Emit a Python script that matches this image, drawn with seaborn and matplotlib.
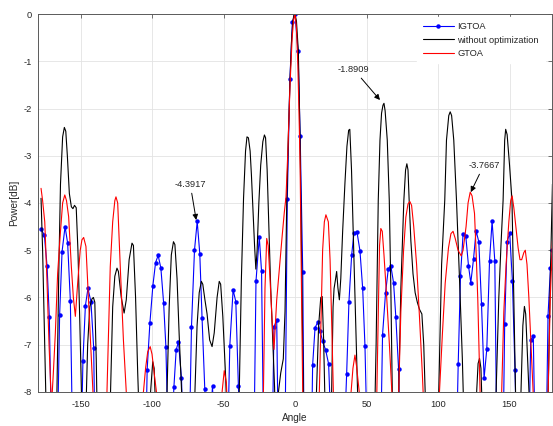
import numpy as np
import matplotlib
matplotlib.use('Agg')
from matplotlib import pyplot as plt
import seaborn as sns

# IGTOA (blue, with markers) - values below -8 fall off the axes
igtoa_angle = [-177.4, -175.3, -173.4, -171.8, -170, -168.2, -166.4, -164.6, -162.9, -160.8,
               -159, -157.1, -155.3, -153.5, -151.7, -150, -148.3, -146.6, -144.8, -142.7,
               -140.8, -139, -121, -105.2, -103.4, -101.5, -99.4, -97.5, -95.7, -93.8,
               -91.9, -90.3, -88.5, -86.6, -84.7, -83.1, -81.5, -79.4, -77.6, -75.9,
               -74.2, -72.4, -70.3, -68.4, -66.6, -65, -63.1, -61.3, -59.5, -57.7,
               -55.9, -52, -47.4, -45.6, -43.3, -41.4, -39.6, -37.8, -33, -29,
               -27.3, -25.0, -23.4, -21.6, -18.2, -16.4, -14.7, -12.8, -11.0, -9.2,
               -7.3, -5.4, -3.6, -1.8, 0, 2.1, 3.6, 5.4, 7.1, 8.9,
               10.6, 12.3, 14, 15.8, 17.5, 19.3, 21.4, 23.5, 25.4, 30,
               34.4, 36.1, 37.7, 39.6, 41.2, 43.3, 45.4, 47.3, 48.9, 50.8,
               55, 59.4, 61.2, 63.3, 65.2, 67, 68.9, 70.5, 72.4, 74.2,
               94, 112.3, 114.1, 115.7, 117.5, 119.4, 121.3, 122.9, 124.8, 126.6,
               128.5, 130.4, 132.2, 134.1, 136, 137.8, 139.7, 141.6, 143.2, 144.9,
               146.6, 148.3, 150.1, 152, 153.8, 155.6, 160, 163, 164.8, 166.6,
               168.4, 172, 175.2, 176.9, 178.6, 180]
igtoa_db = [-4.56, -4.68, -5.33, -6.42, -9.5, -13, -9.5, -6.37, -5.03, -4.5,
            -4.85, -6.07, -9.5, -14, -12, -9.8, -7.34, -6.18, -5.81, -6.09,
            -7.06, -11, -20, -10.5, -7.53, -6.55, -5.75, -5.26, -5.11, -5.38,
            -6.11, -7.04, -9.3, -9.2, -7.9, -7.11, -6.94, -7.71, -9.5, -12,
            -9.5, -6.62, -5.0, -4.39, -5.07, -6.44, -7.94, -9.0, -8.8, -7.87,
            -9.5, -14, -9.5, -7.02, -5.84, -6.09, -7.87, -9.5, -15, -9.8,
            -5.66, -4.72, -5.45, -10, -14, -10, -6.62, -6.48, -11, -14,
            -10, -3.92, -1.38, -0.16, 0.0, -0.78, -2.58, -5.47, -12, -16,
            -11, -7.44, -6.64, -6.53, -6.7, -6.93, -7.11, -7.41, -9, -15,
            -9, -7.62, -6.09, -5.1, -4.64, -4.61, -5.01, -5.81, -7.02, -9.5,
            -15, -10, -6.79, -5.9, -5.4, -5.33, -5.69, -6.42, -7.51, -10,
            -20, -10, -7.41, -5.55, -4.66, -4.7, -5.33, -5.69, -5.19, -4.59,
            -4.82, -6.14, -7.71, -7.09, -5.23, -4.38, -5.23, -10.5, -14, -10.5,
            -6.56, -4.82, -4.64, -5.65, -7.53, -10, -15, -10, -6.9, -6.82,
            -10, -15, -10, -6.39, -5.38, -5.0]

# without optimization (black)
plain_angle = [-177.6, -176.5, -175.3, -174.3, -173, -170, -168, -166.5, -165.2, -164,
               -162.5, -161.3, -160.3, -159.2, -157.8, -156.4, -155.3, -154.2, -153, -151.8,
               -150.5, -149.2, -147.7, -146.3, -145, -143.5, -142, -141, -140, -139,
               -137.5, -135, -131, -129, -127.5, -126, -124.5, -123.5, -121.5, -119.5,
               -118, -116, -114, -113, -111.5, -110, -109, -107.5, -105, -102.5,
               -101, -99.5, -98.5, -97, -95.5, -93, -90.8, -89.5, -88, -86.5,
               -85, -84, -82.5, -81, -79.3, -77.8, -74, -71.3, -70, -68.5,
               -67, -65.5, -64.5, -63, -61.5, -59.7, -58, -56.5, -54.5, -53,
               -52, -50.5, -48.5, -47, -45.5, -43, -40.5, -39, -37.5, -36,
               -34.6, -33.6, -32.6, -31.4, -30.5, -29.5, -28.3, -27.4, -26.5, -25.3,
               -24, -22.5, -21.4, -20.6, -19.5, -18.3, -17, -15.6, -14.3, -13,
               -11.6, -10, -8.2, -7.0, -5.8, -4.7, -3.5, -2.5, -1.6, -0.8,
               0, 1, 2.3, 3.5, 4.7, 5.8, 7, 9, 12, 13.8,
               15, 16.5, 18, 19, 20, 21, 22.5, 24.3, 25.6, 26.6,
               27.3, 28.3, 29.1, 30, 31, 32, 33.3, 34.9, 36.3, 37.5,
               38.3, 39.5, 40.7, 42.6, 44.2, 45.5, 50, 54.5, 55.7, 56.7,
               57.5, 58.2, 59.4, 60.5, 61.5, 62.2, 63, 64.5, 65.9, 67,
               68, 69, 71, 72.5, 74, 76.1, 77.3, 78.2, 79, 79.8,
               81, 82.5, 84, 85.5, 87, 88.7, 90, 91.5, 93, 96,
               99, 100.5, 102.5, 104.7, 105.9, 107.5, 108.5, 109.5, 111, 112.9,
               115, 117, 118.5, 120, 123, 125.5, 126.5, 128, 129, 130,
               131, 132.5, 136, 139, 140.6, 142.5, 144, 145.5, 146.6, 147.3,
               148.3, 150, 151.7, 153, 154.2, 155.5, 156.8, 158, 159.3, 160.4,
               161.3, 162.5, 163.6, 165, 170, 175.5, 177, 178.5, 180]
plain_db = [-3.9, -5.0, -6.6, -8.0, -11, -14, -11, -8, -5.5, -3.6,
            -2.6, -2.4, -2.48, -3.0, -3.8, -4.08, -4.12, -4.05, -4.1, -5.0,
            -6.5, -8.2, -12, -8.5, -7.0, -6.2, -6.03, -6.0, -6.1, -7.3,
            -10, -14, -11, -8, -6.2, -5.55, -5.38, -5.45, -6.0, -6.33,
            -6.05, -5.2, -4.85, -4.9, -6.0, -7.6, -8.5, -11, -14, -9.5,
            -8, -7.36, -7.5, -8.8, -11, -13, -10, -8, -6.2, -5.1,
            -4.82, -4.88, -5.6, -6.8, -8.0, -11, -14, -10, -8, -6.6,
            -5.9, -5.66, -5.72, -6.05, -6.35, -6.9, -7.04, -6.75, -6.0, -5.66,
            -5.72, -6.4, -7.7, -9.0, -11, -14, -11, -8, -5.6, -3.9,
            -2.9, -2.6, -2.62, -2.9, -3.4, -4.1, -4.9, -5.4, -5.0, -4.0,
            -3.2, -2.7, -2.56, -2.62, -3.3, -4.5, -5.8, -6.9, -7.9, -10,
            -8.0, -7.6, -7.3, -6.3, -4.0, -2.6, -1.4, -0.6, -0.16, -0.03,
            0, -0.15, -0.78, -2.6, -5.4, -8, -12, -14, -12, -9.5,
            -8, -6.6, -6.0, -5.98, -6.9, -8.3, -12, -10, -8, -6.2,
            -5.81, -5.62, -5.45, -5.8, -6.05, -5.6, -4.6, -3.58, -2.8, -2.46,
            -2.44, -3.3, -4.64, -6.76, -8.5, -12, -15, -11, -8.5, -7,
            -5.3, -3.94, -2.67, -2.1, -1.93, -1.89, -2.05, -2.67, -3.94, -5.8,
            -8, -11, -11, -8, -5.8, -3.94, -3.3, -3.17, -3.3, -3.94,
            -4.8, -5.5, -5.9, -6.1, -6.25, -6.35, -7, -8.5, -12, -15,
            -12, -8, -5.3, -3.94, -2.67, -2.15, -2.07, -2.15, -2.67, -3.94,
            -5.6, -7.3, -9, -12, -13, -10, -8.3, -7.4, -7.29, -7.5,
            -8.5, -12, -14, -12, -8, -6, -4.9, -3.94, -2.67, -2.44,
            -2.55, -3.2, -3.94, -6, -8, -11, -10, -8, -6.6, -6.19,
            -6.35, -7.2, -8, -11, -14, -11, -8, -5.6, -3.6]

# GTOA (red)
gtoa_angle = [-177.6, -176.5, -175, -173.5, -172, -170.3, -169, -167.6, -166, -164.1,
              -162.5, -161, -159.8, -158.3, -156.4, -155, -153.6, -152, -150.2, -149,
              -147.8, -146.2, -144.4, -142.5, -140.5, -138.5, -135, -133, -131.5, -130,
              -129.2, -127.5, -126, -125.2, -124, -122.2, -120, -118, -116.5, -112,
              -107.5, -106, -104.5, -103, -101.3, -100, -98.5, -96.5, -95, -90,
              -60, -53, -51, -49.5, -48, -46.5, -45, -35, -24.5, -22.1,
              -21, -19.8, -18.8, -17.5, -16, -14.7, -13.8, -12.8, -11, -9,
              -7.5, -6.3, -5, -3.5, -2, -1, 0, 1, 2, 3,
              3.6, 4.5, 5.4, 6.5, 10, 15.5, 17, 18.3, 19.3, 20.5,
              21.6, 23.3, 24.5, 25.7, 26.8, 28, 33, 38, 39.2, 40.5,
              41.9, 43, 44.9, 46, 51, 56, 57.2, 58.2, 59.1, 60,
              61, 62.2, 64.2, 66, 67.7, 69.2, 71, 72.5, 74, 75.9,
              77.5, 79, 80.3, 81.5, 83, 85, 87, 89, 90, 91.5,
              95, 99, 101, 103, 105, 107.3, 109, 110.5, 112, 114,
              116.2, 117.5, 119.6, 121, 122.5, 123.8, 125.5, 126.7, 127.8, 129.4,
              130.5, 136, 143, 144.5, 146, 147.6, 149.5, 150.8, 151.8, 153,
              154.6, 156, 157.3, 158.5, 160, 161, 162.2, 163.5, 165, 166.5,
              168, 172, 175, 177, 178.5, 180]
gtoa_db = [-3.69, -3.95, -4.4, -5.6, -7.0, -8.3, -7.6, -6.76, -5.5, -4.64,
           -4.0, -3.83, -3.95, -4.29, -5.35, -6.0, -6.4, -5.7, -5.0, -4.78,
           -4.73, -4.92, -6.05, -7.2, -8.5, -11, -14, -10, -8, -6.3,
           -5.35, -4.4, -3.95, -3.87, -4.0, -5.35, -6.9, -8, -10, -14,
           -10, -8, -7.5, -7.15, -7.04, -7.2, -7.6, -8.1, -10, -14,
           -14, -9.5, -8, -7.55, -7.8, -9, -11, -15, -11, -8,
           -5.8, -4.75, -4.9, -5.6, -6.5, -7.1, -6.6, -6.05, -5.4, -4.7,
           -4.2, -3.87, -2.9, -1.5, -0.5, -0.12, 0, -0.3, -1.1, -2.4,
           -3.3, -5.8, -8, -11, -14, -11, -8, -6.3, -5.0, -4.4,
           -4.25, -4.4, -5.2, -6.6, -8, -11, -14, -10, -8, -7.5,
           -7.22, -7.45, -8, -10, -14, -10, -8, -6.4, -4.9, -4.54,
           -4.6, -5.1, -6.05, -7.0, -8, -10.5, -10.5, -8, -6.3, -5.0,
           -4.3, -4.02, -3.97, -4.05, -4.5, -5.3, -6.4, -7.6, -8.3, -10,
           -14, -10, -8, -6.8, -5.7, -4.95, -4.65, -4.6, -4.75, -5.0,
           -5.12, -5.0, -4.5, -4.0, -3.77, -3.85, -4.22, -5.1, -6.05, -8,
           -10, -14, -10, -8, -6.3, -5.3, -4.4, -3.95, -3.85, -4.1,
           -4.55, -4.95, -5.2, -5.2, -5.05, -5.0, -5.3, -6.0, -7.0, -8,
           -10, -14, -11, -8, -6, -4.8]

sns.set_style('white')
plt.rcParams['font.family'] = ['Liberation Sans', 'DejaVu Sans']
plt.rcParams['axes.unicode_minus'] = False
txt = '#262626'

fig = plt.figure(figsize=(5.53, 4.26), dpi=100)
ax = fig.add_axes([0.068, 0.080, 0.931, 0.887])

sns.lineplot(x=igtoa_angle, y=igtoa_db, sort=False, estimator=None, color='#0000ff',
             lw=0.8, marker='o', markersize=3.2, markeredgewidth=0, label='IGTOA', ax=ax)
sns.lineplot(x=plain_angle, y=plain_db, sort=False, estimator=None, color='black',
             lw=0.8, label='without optimization', ax=ax)
sns.lineplot(x=gtoa_angle, y=gtoa_db, sort=False, estimator=None, color='#ff0000',
             lw=0.8, label='GTOA', ax=ax)

ax.set_xlim(-180, 180)
ax.set_ylim(-8, 0)
ax.set_xticks([-150, -100, -50, 0, 50, 100, 150])
ax.set_yticks(range(-8, 1))
ax.grid(True, color='#e3e3e3', lw=0.6)
ax.set_axisbelow(True)
for s in ax.spines.values():
    s.set_color('#5a5a5a')
    s.set_linewidth(0.7)
ax.tick_params(direction='in', top=True, right=True, length=3, width=0.6,
               colors='#5a5a5a', labelcolor=txt, labelsize=6.7)
ax.tick_params(axis='x', pad=6)
ax.tick_params(axis='y', pad=4)
ax.set_xlabel('Angle', fontsize=7.2, color=txt, labelpad=3)
ax.set_ylabel('Power[dB]', fontsize=7.2, color=txt, labelpad=3)

arrow = dict(arrowstyle='-|>', color='black', lw=0.7, mutation_scale=8, shrinkA=1, shrinkB=0)
ax.annotate('-4.3917', xy=(-69.1, -4.36), xytext=(-73.3, -3.6), ha='center', va='center',
            fontsize=6.7, color=txt, arrowprops=arrow)
ax.annotate('-1.8909', xy=(59.4, -1.82), xytext=(41, -1.17), ha='center', va='center',
            fontsize=6.7, color=txt, arrowprops=arrow)
ax.annotate('-3.7667', xy=(122.9, -3.77), xytext=(132, -3.2), ha='center', va='center',
            fontsize=6.7, color=txt, arrowprops=arrow)

leg = ax.legend(loc='upper right', bbox_to_anchor=(0.99, 1.0), borderaxespad=0.3,
                borderpad=0.6, handlelength=3.3, handletextpad=0.4, labelspacing=0.45,
                fontsize=6.7, frameon=True, fancybox=False, framealpha=1, edgecolor='white')
for t in leg.get_texts():
    t.set_color(txt)

fig.savefig('out.png', dpi=100)
